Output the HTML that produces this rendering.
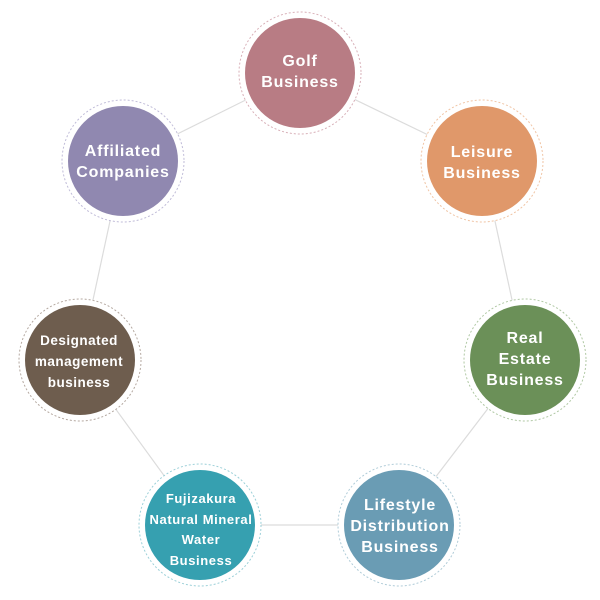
<!DOCTYPE html>
<html><head><meta charset="utf-8"><style>
html,body{margin:0;padding:0;background:#fff;width:600px;height:600px;overflow:hidden}
text{font-family:"Liberation Sans",sans-serif;font-weight:bold;fill:#fff;text-anchor:middle}
</style></head><body>
<svg width="600" height="600" viewBox="0 0 600 600" xmlns="http://www.w3.org/2000/svg">
<polyline points="300,73 482,161 525,360 399,525 200,525 80,360 123,161 300,73" fill="none" stroke="#dcdcdc" stroke-width="1.2"/>
<g stroke-dasharray="2,2" stroke-width="1" fill="#fff">
<circle cx="300" cy="73" r="61" stroke="#d8b0b8"/>
<circle cx="482" cy="161" r="61" stroke="#f0c4a4"/>
<circle cx="123" cy="161" r="61" stroke="#c0bcd8"/>
<circle cx="80" cy="360" r="61" stroke="#b4a8a0"/>
<circle cx="525" cy="360" r="61" stroke="#b0c8a4"/>
<circle cx="200" cy="525" r="61" stroke="#9cd0d8"/>
<circle cx="399" cy="525" r="61" stroke="#b0ccd8"/>
</g>
<circle cx="300" cy="73" r="55" fill="#b87c84"/>
<circle cx="482" cy="161" r="55" fill="#e0986a"/>
<circle cx="123" cy="161" r="55" fill="#9088b0"/>
<circle cx="80" cy="360" r="55" fill="#6e5d4e"/>
<circle cx="525" cy="360" r="55" fill="#6b9058"/>
<circle cx="200" cy="525" r="55" fill="#36a0b0"/>
<circle cx="399" cy="525" r="55" fill="#6a9cb4"/>
<g font-size="16" letter-spacing="0.8">
<text x="300" y="66">Golf</text><text x="300" y="87">Business</text>
<text x="482" y="157">Leisure</text><text x="482" y="178">Business</text>
<text x="123" y="156">Affiliated</text><text x="123" y="177">Companies</text>
<text x="525" y="343">Real</text><text x="525" y="364">Estate</text><text x="525" y="385">Business</text>
<text x="400" y="510">Lifestyle</text><text x="400" y="531">Distribution</text><text x="400" y="552">Business</text>
</g>
<g font-size="13.5" letter-spacing="0.5">
<text x="79" y="345">Designated</text><text x="79" y="366">management</text><text x="79" y="387">business</text>
</g>
<g font-size="13" letter-spacing="0.6">
<text x="201" y="503">Fujizakura</text><text x="201" y="524">Natural Mineral</text><text x="201" y="544">Water</text><text x="201" y="565">Business</text>
</g>
</svg>
</body></html>
